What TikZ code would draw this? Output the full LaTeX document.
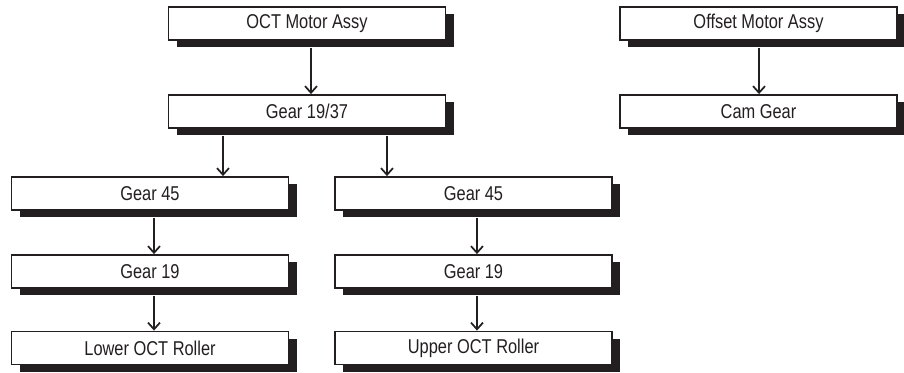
\documentclass[tikz,border=0pt]{standalone}
\usepackage{fontspec}
\setmainfont[FakeStretch=0.82]{Liberation Sans}
\usetikzlibrary{arrows.meta,shadows}
\definecolor{ink}{HTML}{231F20}
\begin{document}
\begin{tikzpicture}[x=0.75pt,y=-0.75pt,
  partbox/.style={draw=ink,line width=1.4pt,fill=white,rectangle,
    minimum width=207.75pt,minimum height=24.75pt,inner sep=0pt,
    text=ink,font=\fontsize{15}{17}\selectfont,
    drop shadow={shadow xshift=6pt,shadow yshift=-5.5pt,fill=ink,opacity=1}},
  link/.style={draw=ink,line width=1.3pt,-{Straight Barb[length=5pt,width=9pt,line width=1.3pt]}}]
\useasboundingbox (0,0) rectangle (904,372);
\node[partbox] (a) at (307,23.5) {OCT Motor Assy};
\node[partbox] (b) at (307,111.5) {Gear 19/37};
\node[partbox] (c) at (150,193.5) {Gear 45};
\node[partbox] (d) at (473.5,193.5) {Gear 45};
\node[partbox] (e) at (150,271.5) {Gear 19};
\node[partbox] (f) at (473.5,271.5) {Gear 19};
\node[partbox] (g) at (150,348) {Lower OCT Roller};
\node[partbox] (h) at (473.5,348) {Upper OCT Roller};
\node[partbox] (i) at (758.5,23.5) {Offset Motor Assy};
\node[partbox] (j) at (758.5,111.5) {Cam Gear};
\draw[link] ([xshift=3pt,yshift=-5.5pt]a.south) -- ([xshift=3pt]a.south |- b.north);
\draw[link] ([xshift=-63pt,yshift=-5.5pt]b.south) -- ([xshift=-63pt]b.south |- c.north);
\draw[link] ([xshift=60pt,yshift=-5.5pt]b.south) -- ([xshift=60pt]b.south |- d.north);
\draw[link] ([xshift=3pt,yshift=-5.5pt]c.south) -- ([xshift=3pt]c.south |- e.north);
\draw[link] ([xshift=2.6pt,yshift=-5.5pt]d.south) -- ([xshift=2.6pt]d.south |- f.north);
\draw[link] ([xshift=3pt,yshift=-5.5pt]e.south) -- ([xshift=3pt]e.south |- g.north);
\draw[link] ([xshift=2.6pt,yshift=-5.5pt]f.south) -- ([xshift=2.6pt]f.south |- h.north);
\draw[link] ([xshift=0.4pt,yshift=-5.5pt]i.south) -- ([xshift=0.4pt]i.south |- j.north);
\end{tikzpicture}
\end{document}
